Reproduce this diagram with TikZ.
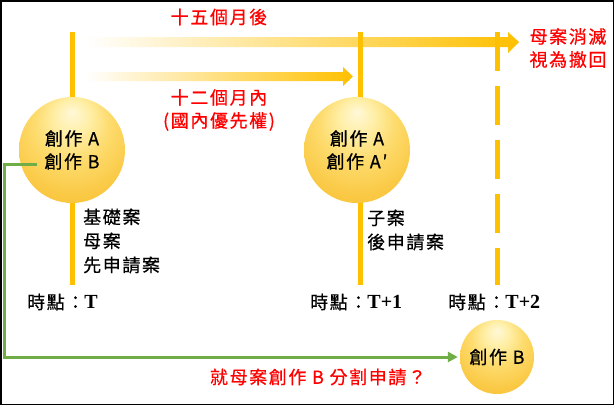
\documentclass[tikz,border=0pt]{standalone}
\usepackage{fontspec}
\setmainfont{Liberation Serif}
\newfontfamily\cjk[LetterSpace=9,FakeBold=0.6]{Noto Sans CJK TC}
\usetikzlibrary{arrows.meta}
\definecolor{gold}{HTML}{FFC000}
\definecolor{grn}{HTML}{70AD47}
\definecolor{redt}{HTML}{FF0000}
\definecolor{bA}{HTML}{FFF8D8}
\definecolor{bB}{HTML}{FFEFA8}
\definecolor{bC}{HTML}{FDDB6C}
\definecolor{bD}{HTML}{FAC843}
\definecolor{bE}{HTML}{F6BC2A}
\pgfdeclareradialshading{goldball}{\pgfpoint{0bp}{18bp}}{color(0bp)=(bA); color(8bp)=(bB); color(18bp)=(bC); color(31bp)=(bD); color(43bp)=(bE); color(60bp)=(bE)}
\begin{document}
\begin{tikzpicture}[x=1pt,y=-1pt,
  lbl/.style={font=\cjk\fontsize{18}{23}\selectfont, inner sep=0pt},
  redlbl/.style={lbl, text=redt, align=center},
  ball/.style={circle, minimum size=106pt, inner sep=0pt, shading=goldball, align=center, lbl},
  tline/.style={gold, line width=5pt},
  band/.style={left color=white, right color=gold},
  tlab/.style={inner sep=0pt, anchor=west}]
\useasboundingbox (0,0) rectangle (614,405);
\fill[white] (0,0) rectangle (614,405);
% period arrows
\shade[band] (85,37) -- (508,37) -- (508,32) -- (519,42) -- (508,53) -- (508,47) -- (85,47) -- cycle;
\shade[band] (85,72) -- (343,72) -- (343,67) -- (353,76.5) -- (343,86) -- (343,81) -- (85,81) -- cycle;
% time lines
\coordinate (t1top) at (72,32);  \coordinate (t1bot) at (72,285);
\coordinate (t2top) at (360,32); \coordinate (t2bot) at (360,285);
\coordinate (t3top) at (497,32); \coordinate (t3bot) at (497,285);
\draw[tline] (t1top) -- (t1bot);
\draw[tline] (t2top) -- (t2bot);
\draw[tline, dash pattern=on 39pt off 15pt] (t3top) -- (t3bot);
% balls
\node[ball] (c1) at (72,150) {創作 A\\創作 B};
\node[ball] (c2) at (357,150) {創作 A\\創作 A′};
\node[ball, minimum size=74pt] (c3) at (497,357) {創作 B};
% green connector
\coordinate (gs) at (37,164);
\draw[grn, line width=3pt, -{Triangle[length=10pt,width=10pt]}, shorten >=2pt] (gs) -- (4,164) -- (4,357) -- (c3.west);
% labels
\node[redlbl] (m15) at (219,17) {十五個月後};
\node[redlbl] (m12) at (219,110) {十二個月內\\(國內優先權)};
\node[redlbl] (wd) at (568,48) {母案消滅\\視為撤回};
\node[redlbl] (div) at (318,377) {就母案創作 B 分割申請？};
\node[lbl, anchor=west, align=left, font=\cjk\fontsize{18}{24}\selectfont] (base) at (83,241) {基礎案\\母案\\先申請案};
\node[lbl, anchor=west, align=left, font=\cjk\fontsize{18}{24}\selectfont] (child) at (367,230) {子案\\後申請案};
\node[tlab] (tp1) at (27,302) {{\cjk\fontsize{18}{20}\selectfont 時點：}{\fontsize{20}{22}\selectfont\bfseries T}};
\node[tlab] (tp2) at (310,302) {{\cjk\fontsize{18}{20}\selectfont 時點：}{\fontsize{20}{22}\selectfont\bfseries T+1}};
\node[tlab] (tp3) at (448,302) {{\cjk\fontsize{18}{20}\selectfont 時點：}{\fontsize{20}{22}\selectfont\bfseries T+2}};
% frame
\draw[black, line width=1.5pt] (0.75,0.75) rectangle (613.25,404.25);
\end{tikzpicture}
\end{document}
